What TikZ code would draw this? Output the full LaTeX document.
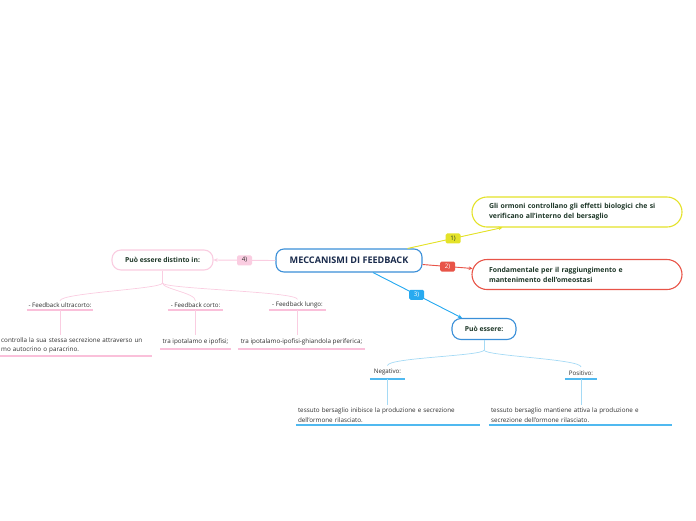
\documentclass[tikz,border=0pt]{standalone}
\usepackage{fontspec}
\setmainfont{Open Sans}
\usetikzlibrary{arrows.meta,calc}
\definecolor{cblue}{RGB}{58,143,216}
\definecolor{navy}{RGB}{26,43,76}
\definecolor{dgreen}{RGB}{30,55,40}
\definecolor{leafc}{RGB}{45,45,45}
\definecolor{yellowc}{RGB}{228,226,40}
\definecolor{redc}{RGB}{232,84,72}
\definecolor{bluec}{RGB}{40,170,240}
\definecolor{lblue}{RGB}{165,218,245}
\definecolor{ublue}{RGB}{80,185,240}
\definecolor{pinkc}{RGB}{250,205,225}
\definecolor{upink}{RGB}{250,192,218}
\begin{document}
\begin{tikzpicture}[x=1pt,y=-1pt,
  central/.style={draw=cblue, line width=1.1pt, rounded corners=8pt, fill=white,
    minimum width=146pt, minimum height=23pt, inner sep=0pt,
    font=\bfseries\fontsize{9.1}{10}\selectfont, text=navy},
  topic/.style={line width=1.1pt, rounded corners=15pt, fill=white,
    minimum height=30pt, text width=176pt, inner xsep=17pt, inner ysep=0pt, align=left,
    font=\bfseries\fontsize{6.9}{10}\selectfont, text=dgreen},
  sub/.style={line width=1.1pt, rounded corners=9pt, fill=white,
    minimum height=21pt, inner sep=0pt,
    font=\bfseries\fontsize{6.8}{8}\selectfont, text=dgreen},
  lab/.style={rounded corners=1.5pt, minimum width=15pt, minimum height=10pt, inner sep=0pt,
    font=\fontsize{6.2}{7}\selectfont},
  conn/.style={line width=0.9pt, -{Stealth[length=4pt,width=3.6pt]}},
  leaflab/.style={anchor=south, inner xsep=0pt, inner ysep=2.5pt,
    font=\fontsize{6.2}{7}\selectfont, text=leafc},
  leaftxt/.style={anchor=south, inner xsep=2pt, inner ysep=2.5pt, align=left,
    font=\fontsize{6.3}{9.7}\selectfont, text=leafc},
  brp/.style={draw=pinkc, line width=0.7pt},
  brb/.style={draw=lblue, line width=0.7pt},
  ulp/.style={draw=upink, line width=1.6pt},
  ulb/.style={draw=ublue, line width=1.6pt}
]
\useasboundingbox (0,0) rectangle (696,520);

% central
\node[central] (c) at (349,260.5) {MECCANISMI DI FEEDBACK};

% right topics
\node[topic, draw=yellowc] (n1) at (577,212) {Gli ormoni controllano gli effetti biologici che si\\verificano all'interno del bersaglio};
\node[topic, draw=redc] (n2) at (577,274.5) {Fondamentale per il raggiungimento e\\mantenimento dell'omeostasi};
\node[sub, draw=cblue, minimum width=64pt] (p) at (484,329) {Può essere:};
\node[sub, draw=pinkc, minimum width=101pt, minimum height=20pt] (d) at (162.5,260) {Può essere distinto in:};

% main connectors
\draw[conn, draw=yellowc, fill=yellowc] ($(c.north east)+(-15,0)$) -- node[lab, fill=yellowc, text=dgreen, pos=0.48] (k1) {1)} ($(n1.south west)+(31,0)$);
\draw[conn, draw=redc, fill=redc] ($(c.east)+(0,4)$) -- node[lab, fill=redc, text=white, pos=0.5] (k2) {2)} ($(n2.west)+(1.2,-6)$);
\draw[conn, draw=bluec, fill=bluec] ($(c.south)+(24,0)$) -- node[lab, fill=bluec, text=white, pos=0.49] (k3) {3)} ($(p.north)+(-22,0)$);
\draw[conn, draw=pinkc, fill=pinkc] (c.west) -- node[lab, fill=pinkc, text=leafc, pos=0.5] (k4) {4)} (d.east);

% left branch (pink)
\coordinate (ds) at (162.5,283);
\node[leaflab, inner ysep=2pt, minimum width=66pt] (l1) at (60,310) {- Feedback ultracorto:};
\node[leaflab, inner ysep=2pt, minimum width=55pt] (l2) at (195.5,310) {- Feedback corto:};
\node[leaflab, inner ysep=2pt, minimum width=57pt] (l3) at (297.5,310) {- Feedback lungo:};
\draw[brp] (d.south) -- (ds);
\foreach \n in {l1,l2,l3} {
  \draw[brp] (ds) .. controls +(0,6) and +(0,-8) .. (\n.north);
  \draw[ulp] (\n.south west) -- (\n.south east);
}
\node[leaftxt, anchor=south west, text width=150pt, minimum width=152pt, inner xsep=1pt] (t1) at (0,356) {controlla la sua stessa secrezione attraverso un\\mo autocrino o paracrino.};
\node[leaftxt, inner ysep=3.5pt, minimum width=67pt] (t2) at (195.5,349) {tra ipotalamo e ipofisi;};
\node[leaftxt, inner ysep=3.5pt, minimum width=127pt] (t3) at (301.5,349) {tra ipotalamo-ipofisi-ghiandola periferica;};
\foreach \a/\b in {l1/t1,l2/t2,l3/t3} {
  \draw[brp] (\a.south) -- (\a.south |- \b.north);
  \draw[ulp] (\b.south west) -- (\b.south east);
}

% bottom branch (blue)
\coordinate (ps) at (484,350);
\node[leaflab, inner ysep=3.5pt, minimum width=35pt] (neg) at (387.5,379) {Negativo:};
\node[leaflab, inner ysep=3.5pt, minimum width=32pt] (pos) at (581,379) {Positivo:};
\draw[brb] (p.south) -- (ps);
\foreach \n in {neg,pos} {
  \draw[brb] (ps) .. controls +(0,6) and +(0,-8) .. (\n.north);
  \draw[ulb] (\n.south west) -- (\n.south east);
}
\node[leaftxt, minimum width=184pt, text width=180pt] (negt) at (388,425) {tessuto bersaglio inibisce la produzione e secrezione\\dell'ormone rilasciato.};
\node[leaftxt, minimum width=183pt, text width=179pt] (post) at (580.5,425) {tessuto bersaglio mantiene attiva la produzione e\\secrezione dell'ormone rilasciato.};
\foreach \a/\b in {neg/negt,pos/post} {
  \draw[brb] (\a.south) -- (\a.south |- \b.north);
  \draw[ulb] (\b.south west) -- (\b.south east);
}
\end{tikzpicture}
\end{document}
